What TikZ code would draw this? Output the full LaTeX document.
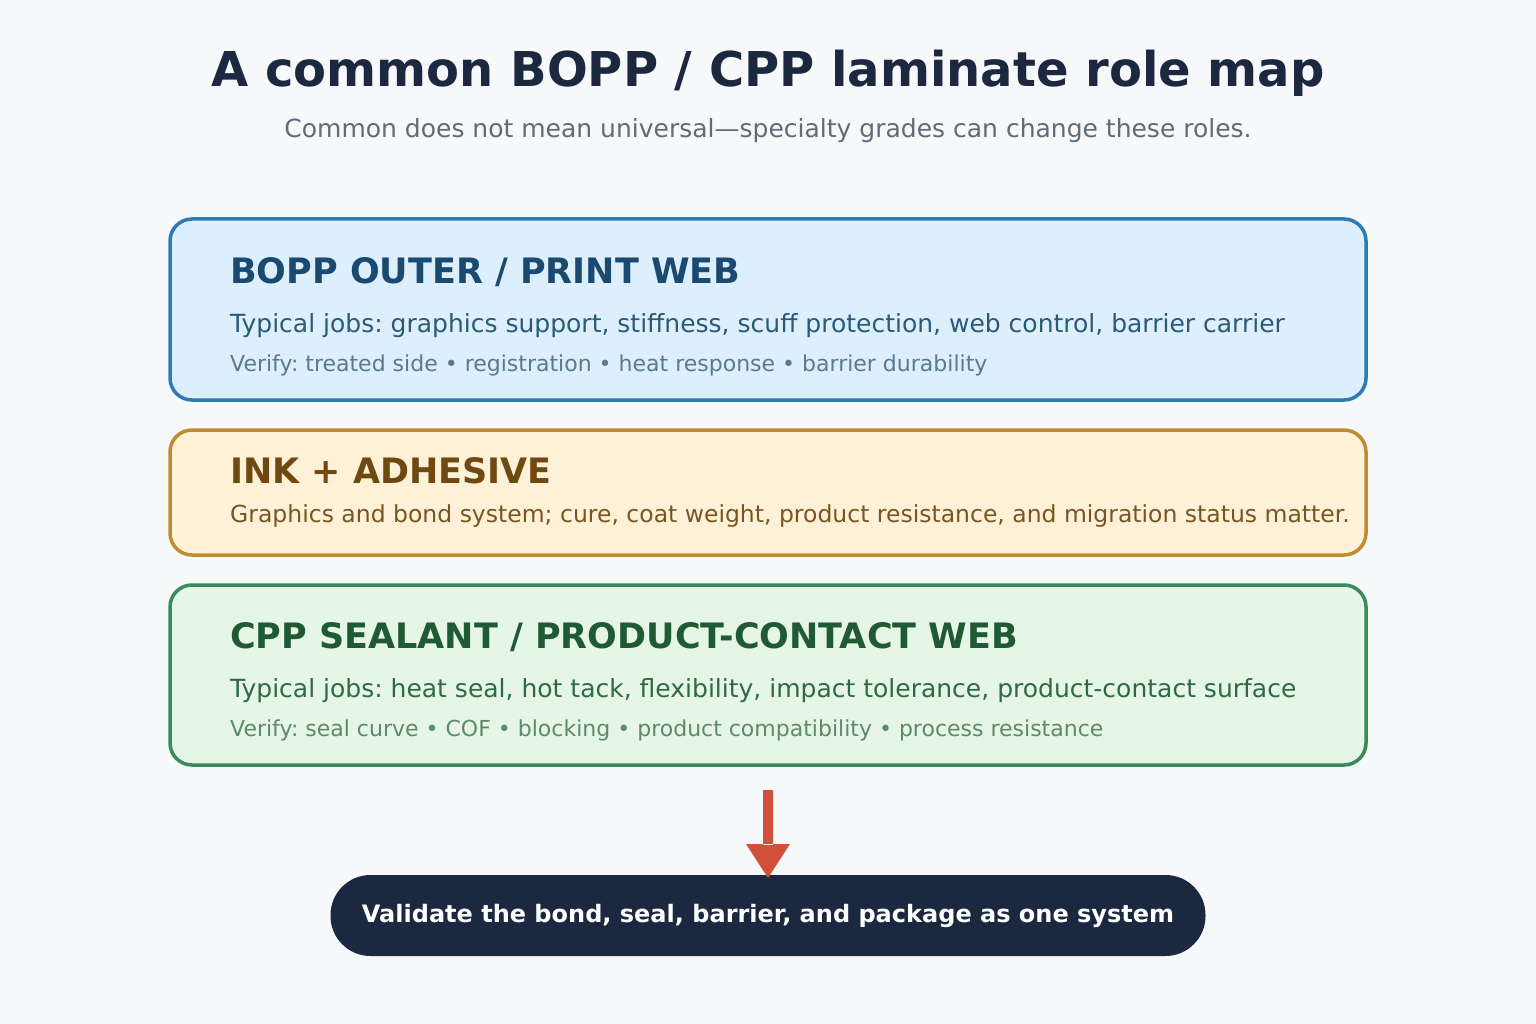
\documentclass[tikz,border=0pt]{standalone}
\usepackage{fontspec}
\setmainfont{DejaVu Sans}
\usetikzlibrary{positioning}
\frenchspacing
\definecolor{bgc}{HTML}{F6F8FA}
\definecolor{titlec}{HTML}{1B2840}
\definecolor{subc}{HTML}{5F6B78}
\definecolor{bline}{HTML}{2E7BB4}\definecolor{bfill}{HTML}{DDEEFD}
\definecolor{bhead}{HTML}{1B4A70}\definecolor{bbody}{HTML}{2A5A7A}\definecolor{bver}{HTML}{5A7A90}
\definecolor{oline}{HTML}{C08A2E}\definecolor{ofill}{HTML}{FEF1D8}
\definecolor{ohead}{HTML}{6E4A12}\definecolor{obody}{HTML}{7A5520}
\definecolor{gline}{HTML}{3A8A5A}\definecolor{gfill}{HTML}{E5F5E6}
\definecolor{ghead}{HTML}{1F5A35}\definecolor{gbody}{HTML}{2F6A45}\definecolor{gver}{HTML}{5F8A6A}
\definecolor{arrc}{HTML}{D0503A}
\tikzset{
  layer/.style={draw=#1, line width=3.5pt, rounded corners=22pt},
  head/.style={anchor=west, inner sep=0pt, font=\fontsize{35}{40}\selectfont\bfseries},
  body/.style={anchor=west, inner sep=0pt, font=\fontsize{25}{30}\selectfont},
  verify/.style={anchor=west, inner sep=0pt, font=\fontsize{22}{26}\selectfont},
}
\begin{document}
\begin{tikzpicture}[x=1pt,y=-1pt]
\fill[bgc] (0,0) rectangle (1536,1024);
\useasboundingbox (0,0) rectangle (1536,1024);
% title
\node[font=\fontsize{48}{56}\selectfont\bfseries, text=titlec] (title) at (768,73) {A common BOPP / CPP laminate role map};
\node[font=\fontsize{25}{30}\selectfont, text=subc] (sub) at (768,131) {Common does not mean universal—specialty grades can change these roles.};
% layers
\draw[layer=bline, fill=bfill] (170,219) rectangle (1366,400);
\node[head, text=bhead] (bopph) at (230,272) {BOPP OUTER / PRINT WEB};
\node[body, text=bbody] (boppb) at (230,326) {Typical jobs: graphics support, stiffness, scuff protection, web control, barrier carrier};
\node[verify, text=bver] (boppv) at (230,365) {Verify: treated side • registration • heat response • barrier durability};
\draw[layer=oline, fill=ofill] (170,430) rectangle (1366,555);
\node[head, text=ohead] (inkh) at (230,471) {INK + ADHESIVE};
\node[body, font=\fontsize{23.5}{28}\selectfont, text=obody] (inkb) at (230,516) {Graphics and bond system; cure, coat weight, product resistance, and migration status matter.};
\draw[layer=gline, fill=gfill] (170,585) rectangle (1366,765);
\node[head, text=ghead] (cpph) at (230,637) {CPP SEALANT / PRODUCT-CONTACT WEB};
\node[body, text=gbody] (cppb) at (230,691) {Typical jobs: heat seal, hot tack, flexibility, impact tolerance, product-contact surface};
\node[verify, text=gver] (cppv) at (230,730) {Verify: seal curve • COF • blocking • product compatibility • process resistance};
% result
\node[fill=titlec, rounded corners=40pt, minimum width=875pt, minimum height=81pt, text=white,
  font=\fontsize{24}{28}\selectfont\bfseries] (valid) at (768,915.5) {Validate the bond, seal, barrier, and package as one system};
\coordinate (astart) at (768,790);
\fill[arrc] (763,790) rectangle (773,845) (746,844) -- (790,844) -- (768,878) -- cycle;
\end{tikzpicture}
\end{document}
